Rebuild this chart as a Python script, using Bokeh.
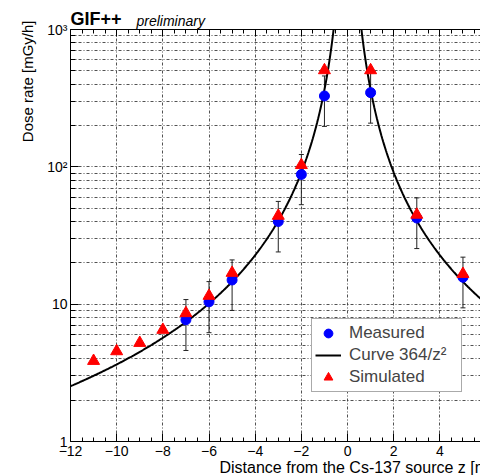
import numpy as np
from bokeh.plotting import figure
from bokeh.models import (LinearAxis, FixedTicker, Legend, LegendItem, Title,
                          Whisker, TeeHead, ColumnDataSource, Range1d)
from bokeh.embed import file_html
from bokeh.resources import INLINE

# ---- data ----
meas_z = [-7, -6, -5, -3, -2, -1, 1, 3, 5]
meas_rate = [7.7, 10.4, 15.0, 40.0, 88.0, 328.0, 347.0, 42.4, 15.7]
meas_err = [3.1, 4.2, 6.0, 16.0, 35.0, 131.0, 139.0, 17.0, 6.3]

sim_z = [-11, -10, -9, -8, -7, -6, -5, -3, -2, -1, 1, 3, 5]
sim_rate = [3.86, 4.54, 5.22, 6.5, 8.6, 11.5, 16.9, 44.0, 103.0, 505.0, 505.0, 44.8, 16.6]

curve_coeff = 364.0

x_ticks = [-12, -10, -8, -6, -4, -2, 0, 2, 4, 6, 8, 10, 12]
x_tick_labels = ["\u221212", "\u221210", "\u22128", "\u22126", "\u22124", "\u22122",
                 "0", "2", "4", "6", "8", "10", "12"]
y_ticks = [1, 10, 100, 1000]
y_tick_labels = ["1", "10", "10\u00b2", "10\u00b3"]

FONT = "Liberation Sans"

x_minor = [t / 2 for t in range(-24, 25)]
y_minor = [k * 10 ** d for d in range(0, 3) for k in range(2, 10)]

p = figure(width=480, height=475, x_range=Range1d(-12, 5.76), y_range=Range1d(1, 1000),
           y_axis_type="log", output_backend="svg", toolbar_location=None,
           min_border_left=70, min_border_right=0, min_border_top=29, min_border_bottom=34)
p.outline_line_color = None
p.background_fill_color = "white"
p.border_fill_color = "white"

xt = FixedTicker(ticks=x_ticks, minor_ticks=x_minor)
yt = FixedTicker(ticks=y_ticks, minor_ticks=y_minor)

xa = p.xaxis[0]
xa.ticker = xt
xa.major_label_overrides = {t: l for t, l in zip(x_ticks, x_tick_labels)}
ya = p.yaxis[0]
ya.ticker = yt
ya.major_label_overrides = {t: l for t, l in zip(y_ticks, y_tick_labels)}

for ax in (xa, ya):
    ax.axis_line_color = "black"
    ax.axis_line_width = 1
    ax.major_tick_in = 8
    ax.major_tick_out = 0
    ax.minor_tick_in = 4
    ax.minor_tick_out = 0
    ax.major_tick_line_color = "black"
    ax.minor_tick_line_color = "black"
    ax.major_label_text_font = FONT
    ax.major_label_text_font_size = "14px"
    ax.major_label_text_color = "black"
xa.major_label_standoff = 4
ya.major_label_standoff = 3
ya.minor_tick_in = 5

top = LinearAxis(ticker=xt, major_tick_in=7, major_tick_out=0, minor_tick_in=4,
                 minor_tick_out=0, major_label_text_font_size="0px", major_label_standoff=0,
                 axis_line_color="black", major_tick_line_color="black",
                 minor_tick_line_color="black")
p.add_layout(top, "above")

# grids
p.xgrid.ticker = xt
p.ygrid.ticker = yt
for g in (p.xgrid, p.ygrid):
    g.grid_line_color = "#333333"
    g.grid_line_dash = "3 2 1 2"
    g.grid_line_width = 1
    g.grid_line_alpha = 0.85
p.ygrid.minor_grid_line_color = "#333333"
p.ygrid.minor_grid_line_dash = "3 2 1 2"
p.ygrid.minor_grid_line_alpha = 0.85

# error bars
src_m = ColumnDataSource(dict(z=meas_z, rate=meas_rate,
                              upper=[r + e for r, e in zip(meas_rate, meas_err)],
                              lower=[r - e for r, e in zip(meas_rate, meas_err)]))
wh = Whisker(source=src_m, base="z", upper="upper", lower="lower",
             line_color="#222222", line_width=1,
             upper_head=TeeHead(size=5, line_color="#222222", line_width=1),
             lower_head=TeeHead(size=5, line_color="#222222", line_width=1))
p.add_layout(wh)

# curve
zl = np.linspace(-12, -0.55, 300)
zr = np.linspace(0.55, 12, 300)
curve = p.multi_line(xs=[list(zl), list(zr)],
                     ys=[list(curve_coeff / zl ** 2), list(curve_coeff / zr ** 2)],
                     line_color="black", line_width=2)

circ = p.scatter(x="z", y="rate", source=src_m, marker="circle", size=10,
                 fill_color="#0000ff", line_color="#0000ff")
tri = p.scatter(x=sim_z, y=sim_rate, marker="triangle", size=12,
                fill_color="#ff0000", line_color="#ff0000")

legend = Legend(items=[LegendItem(label="Measured", renderers=[circ]),
                       LegendItem(label="Curve 364/z\u00b2", renderers=[curve]),
                       LegendItem(label="Simulated", renderers=[tri])],
                location=(241, 49), padding=3, spacing=0, margin=0,
                glyph_height=22, glyph_width=26, label_standoff=8,
                label_width=109, label_height=22,
                label_text_font=FONT, label_text_font_size="17px",
                border_line_color="#555555", border_line_width=1,
                background_fill_color="white", background_fill_alpha=1)
p.add_layout(legend)

# texts
p.add_layout(Title(text="GIF++", align="left", offset=0, standoff=1, text_color="black",
                   text_font=FONT, text_font_style="bold", text_font_size="18px"), "above")
p.add_layout(Title(text="preliminary", align="left", offset=66, standoff=-44,
                   text_color="black", text_font=FONT, text_font_style="italic",
                   text_font_size="14px"), "above")
p.add_layout(Title(text="Dose rate [mGy/h]", align="right", offset=-9, standoff=17,
                   text_color="black", text_font=FONT, text_font_style="normal",
                   text_font_size="15px"), "left")
p.add_layout(Title(text="Distance from the Cs-137 source z [m]", align="left", offset=149,
                   standoff=-3, text_color="black", text_font=FONT, text_font_style="normal",
                   text_font_size="16px"), "below")

open("out.html", "w").write(file_html(p, INLINE))
